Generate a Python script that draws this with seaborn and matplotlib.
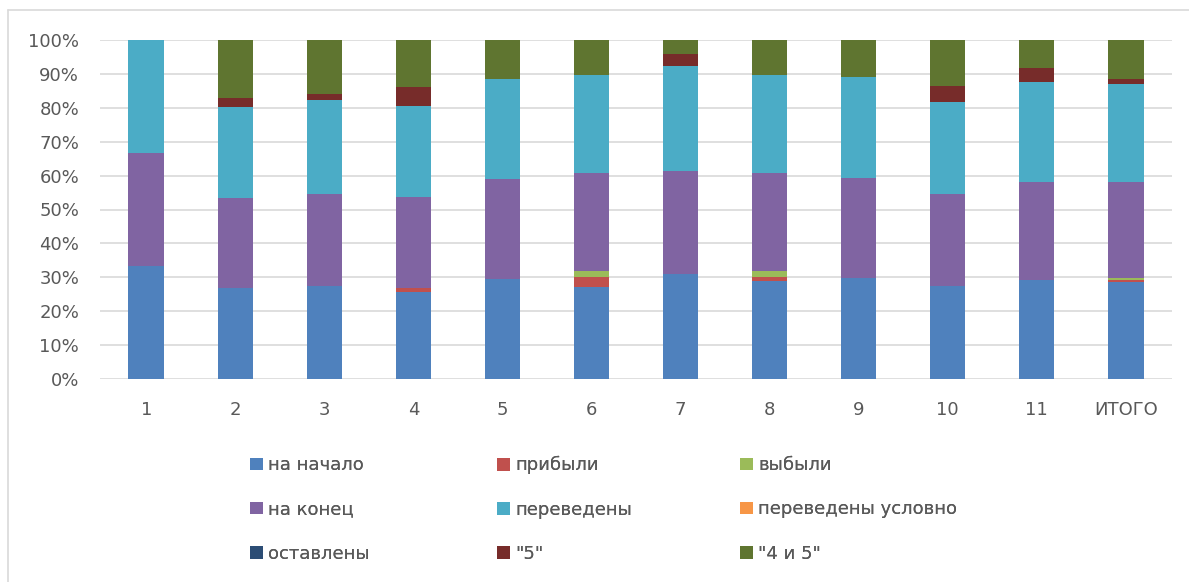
import numpy as np
import pandas as pd
import seaborn as sns
import matplotlib.pyplot as plt
from matplotlib.patches import Patch
from matplotlib.lines import Line2D
from matplotlib.ticker import PercentFormatter

# --- data (shares, %) ---
classes = ['1', '2', '3', '4', '5', '6', '7', '8', '9', '10', '11', 'ИТОГО']
na_nachalo = [33.3, 26.7, 27.3, 25.8, 29.5, 27.2, 30.9, 28.8, 29.7, 27.3, 29.1, 28.7]
pribyli = [0, 0, 0, 1.0, 0, 3.0, 0, 1.4, 0, 0, 0, 0.5]
vybyli = [0, 0, 0, 0, 0, 1.7, 0, 1.7, 0, 0, 0, 0.6]
na_konec = [33.3, 26.8, 27.4, 27.0, 29.6, 28.8, 30.5, 28.8, 29.6, 27.3, 29.1, 28.4]
perevedeny = [33.4, 26.7, 27.6, 26.8, 29.4, 29.0, 30.9, 29.0, 29.7, 27.2, 29.4, 28.7]
perevedeny_uslovno = [0] * 12
ostavleny = [0] * 12
pyat = [0, 2.8, 1.7, 5.4, 0, 0, 3.7, 0, 0, 4.7, 4.2, 1.7]
chetyre_pyat = [0, 17.0, 16.0, 14.0, 11.5, 10.3, 4.0, 10.3, 11.0, 13.5, 8.2, 11.4]

series = ['на начало', 'прибыли', 'выбыли', 'на конец', 'переведены',
          'переведены условно', 'оставлены', '"5"', '"4 и 5"']
colors = ['#4f81bd', '#c0504d', '#9bbb59', '#8064a2', '#4bacc6',
          '#f79646', '#2c4d75', '#772c2a', '#5f7530']

df = pd.DataFrame(
    np.array([na_nachalo, pribyli, vybyli, na_konec, perevedeny,
              perevedeny_uslovno, ostavleny, pyat, chetyre_pyat]).T,
    columns=series)
df = df.div(df.sum(axis=1), axis=0)
cum = df.cumsum(axis=1)
cum['класс'] = classes

sns.set_theme(style='white')
plt.rcParams['font.family'] = ['DejaVu Sans']

fig = plt.figure(figsize=(11.89, 5.82), dpi=100)
ax = fig.add_axes([100 / 1189, 1 - 379 / 582, 1072 / 1189, 339 / 582])

# draw cumulative totals from top series down so lower ones cover the rest
for name, col in reversed(list(zip(series, colors))):
    sns.barplot(data=cum, x='класс', y=name, color=col, saturation=1,
                width=0.4, ax=ax, linewidth=0)

ax.set_ylim(0, 1)
ax.set_xlim(-0.52, 11.52)
ax.set_yticks(np.arange(0, 1.01, 0.1))
ax.yaxis.set_major_formatter(PercentFormatter(1.0, decimals=0))
ax.yaxis.grid(True, color='#d9d9d9', linewidth=1.2)
ax.set_axisbelow(True)
for s in ax.spines.values():
    s.set_visible(False)
ax.set_xlabel('')
ax.set_ylabel('')
ax.tick_params(axis='both', length=0, labelsize=13, colors='#595959')
ax.tick_params(axis='y', pad=15)
ax.tick_params(axis='x', pad=16)

# legend: three columns placed separately, row-wise order as in the original
handles = [Patch(facecolor=c, edgecolor='none') for c in colors]
col_x = [234, 481, 724]
for k, x0 in enumerate(col_x):
    idx = [k, k + 3, k + 6]
    leg = fig.legend([handles[i] for i in idx], [series[i] for i in idx],
                     ncol=1, loc='upper left',
                     bbox_to_anchor=(x0 / 1189, 1 - 440 / 582),
                     frameon=False, fontsize=13, labelcolor='#595959',
                     handlelength=0.7, handleheight=0.7, handletextpad=0.3,
                     labelspacing=1.45)
    fig.add_artist(leg)

# chart area border (top and left edges visible)
fig.add_artist(Line2D([8 / 1189, 1], [1 - 10 / 582, 1 - 10 / 582],
                      transform=fig.transFigure, color='#d9d9d9', linewidth=1.2))
fig.add_artist(Line2D([8 / 1189, 8 / 1189], [0, 1 - 10 / 582],
                      transform=fig.transFigure, color='#d9d9d9', linewidth=1.2))

fig.savefig('out.png', dpi=100)
